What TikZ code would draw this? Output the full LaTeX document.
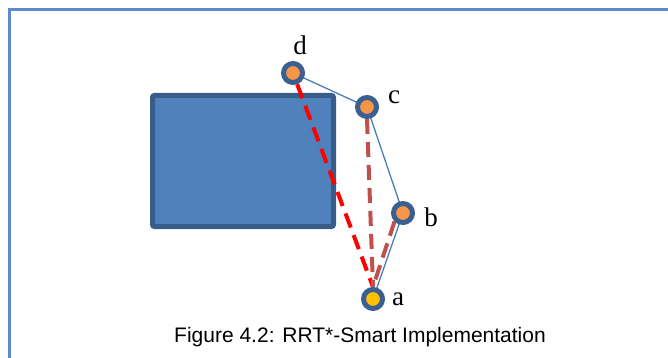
\documentclass[tikz,border=0pt]{standalone}
\usepackage{fontspec}
\setmainfont{Liberation Serif}
\setsansfont{Liberation Sans}
\usetikzlibrary{backgrounds}
\definecolor{frameblue}{HTML}{5B8BC8}
\definecolor{boxfill}{HTML}{4F81BD}
\definecolor{boxedge}{HTML}{385D8A}
\definecolor{ringblue}{HTML}{3B5F91}
\definecolor{vertorange}{HTML}{F79646}
\definecolor{rootyellow}{HTML}{FFC000}
\definecolor{treeblue}{HTML}{4A7EBB}
\definecolor{rewirered}{HTML}{C0504D}
\tikzset{
	vertex/.style={circle, draw=ringblue, line width=5pt, fill=vertorange, minimum size=19pt, inner sep=0pt},
	treeedge/.style={treeblue, line width=1.3pt},
	shortcut/.style={line width=4pt, dash pattern=on 15pt off 8pt},
	letter/.style={anchor=base, font=\fontsize{27}{27}\selectfont}
}
\begin{document}
\begin{tikzpicture}[x=1pt, y=-1pt]
		\useasboundingbox (0,0) rectangle (668,358);

		\draw[frameblue, line width=2.5pt] (9.5,358) -- (9.5,9.5) -- (668,9.5);

		\node[vertex] (d) at (293,73) {};
		\node[vertex] (c) at (367,107) {};
		\node[vertex] (b) at (403,213) {};
		\node[vertex, fill=rootyellow] (a) at (373,299) {};

		% obstacle and edges go under the vertices
		\begin{scope}[on background layer]
			\draw[boxedge, fill=boxfill, line width=5pt, rounded corners=2pt] (152.5,95.5) rectangle (333.5,226.5);
			\draw[treeedge] (d.center) -- (c.center) -- (b.center) -- (a.center);
			\draw[shortcut, red] (d) -- (a.north);
			\draw[shortcut, rewirered] (c.south) -- (a.north);
			\draw[shortcut, rewirered] (b.south west) -- (a.north);
		\end{scope}

		\node[letter] (d-name) at (300,55) {d};
		\node[letter] (c-name) at (394,104) {c};
		\node[letter] (b-name) at (431,226) {b};
		\node[letter] (a-name) at (398,305) {a};

		\node[anchor=base, font=\sffamily\fontsize{21}{21}\selectfont] (caption) at (360,342) {Figure 4.2: RRT*-Smart Implementation};

	\end{tikzpicture}
\end{document}
